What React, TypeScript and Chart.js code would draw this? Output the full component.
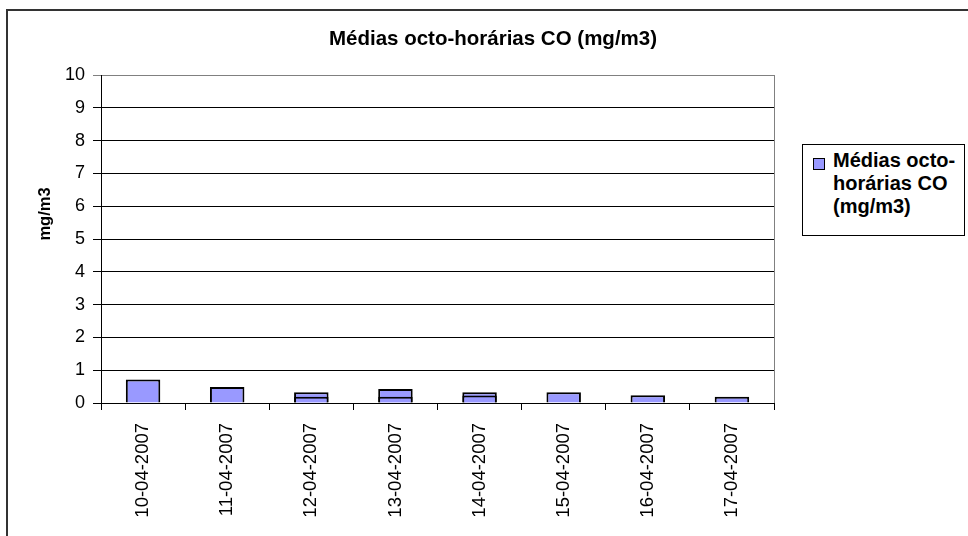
import React, { useEffect, useRef } from "react";
import { Chart, registerables } from "chart.js";

Chart.register(...registerables);

const categories = [
  "10-04-2007",
  "11-04-2007",
  "12-04-2007",
  "13-04-2007",
  "14-04-2007",
  "15-04-2007",
  "16-04-2007",
  "17-04-2007",
];
// highest octo-hourly mean per day
const outerValues = [0.72, 0.49, 0.33, 0.43, 0.33, 0.33, 0.24, 0.19];
// lower overlapping mean visible inside some bars
const innerValues = [null, null, 0.19, 0.19, 0.23, null, null, null];
const chartTitle = "Médias octo-horárias CO (mg/m3)";
const yTitle = "mg/m3";
const legendLines = ["Médias octo-", "horárias CO", "(mg/m3)"];

const FONT = "'Liberation Sans', Arial, sans-serif";
const BAR_FILL = "#9999FF";

const textPlugin = {
  id: "textPlugin",
  afterDraw(chart: any) {
    const ctx = chart.ctx;
    const area = chart.chartArea;
    ctx.save();
    // right plot border (gray)
    ctx.strokeStyle = "#808080";
    ctx.lineWidth = 1;
    ctx.beginPath();
    ctx.moveTo(Math.round(area.right) + 0.5, area.top);
    ctx.lineTo(Math.round(area.right) + 0.5, area.bottom);
    ctx.stroke();
    // main title
    ctx.fillStyle = "#000";
    ctx.font = `bold 20.5px ${FONT}`;
    ctx.textAlign = "center";
    ctx.textBaseline = "alphabetic";
    ctx.fillText(chartTitle, 485, 34);
    // y title
    ctx.translate(37, 203);
    ctx.rotate(-Math.PI / 2);
    ctx.font = `bold 16.5px ${FONT}`;
    ctx.textAlign = "center";
    ctx.textBaseline = "middle";
    ctx.fillText(yTitle, 0, 0);
    ctx.restore();
  },
};

export default function App() {
  const ref = useRef<HTMLCanvasElement | null>(null);

  useEffect(() => {
    if (!ref.current) return;
    const chart = new Chart(ref.current, {
      type: "bar",
      data: {
        labels: categories,
        datasets: [
          {
            label: "inner",
            data: innerValues as any,
            backgroundColor: BAR_FILL,
            borderColor: "#000",
            borderWidth: 2,
            grouped: false,
            order: 1,
            categoryPercentage: 1,
            barPercentage: 0.41,
          } as any,
          {
            label: chartTitle,
            data: outerValues,
            backgroundColor: BAR_FILL,
            borderColor: "#000",
            borderWidth: 2,
            grouped: false,
            order: 2,
            categoryPercentage: 1,
            barPercentage: 0.41,
          } as any,
        ],
      },
      options: {
        responsive: false,
        animation: false,
        devicePixelRatio: 1,
        layout: {
          autoPadding: false,
          padding: { left: 0, top: 64, right: 194, bottom: 0 },
        },
        plugins: {
          legend: { display: false },
          title: { display: false },
          tooltip: { enabled: false },
        },
        scales: {
          x: {
            offset: true,
            afterFit: (s: any) => {
              s.height = 138;
            },
            grid: {
              offset: true,
              drawOnChartArea: false,
              drawTicks: true,
              tickLength: 7,
              color: "#000",
            },
            border: { display: true, color: "#000" },
            ticks: {
              minRotation: 90,
              maxRotation: 90,
              autoSkip: false,
              padding: 13,
              color: "#000",
              font: { family: FONT, size: 18.5 },
            },
          },
          y: {
            min: 0,
            max: 10,
            afterFit: (s: any) => {
              s.width = 93;
            },
            grid: {
              color: (c: any) => (c.tick && c.tick.value === 10 ? "#808080" : "#000"),
              drawTicks: true,
              tickLength: 8,
            },
            border: { display: true, color: "#000" },
            ticks: {
              stepSize: 1,
              padding: 8,
              color: "#000",
              font: { family: FONT, size: 18 },
            },
          },
        },
      },
      plugins: [textPlugin],
    });
    return () => chart.destroy();
  }, []);

  return (
    <div
      style={{
        position: "fixed",
        left: 6,
        top: 9,
        width: 962,
        height: 540,
        border: "2px solid #333",
        background: "#fff",
        overflow: "hidden",
      }}
    >
      <canvas ref={ref} width={960} height={530} style={{ display: "block" }} />
      <div
        style={{
          position: "absolute",
          left: 794,
          top: 133,
          width: 161,
          height: 90,
          border: "1px solid #000",
          background: "#fff",
          fontFamily: FONT,
          fontWeight: "bold",
          fontSize: 20,
          lineHeight: "23px",
          color: "#000",
        }}
      >
        <div
          style={{
            position: "absolute",
            left: 10,
            top: 13,
            width: 10,
            height: 10,
            border: "1px solid #000",
            background: BAR_FILL,
          }}
        />
        <div style={{ position: "absolute", left: 30, top: 4, whiteSpace: "nowrap" }}>
          {legendLines.map((l, i) => (
            <div key={i}>{l}</div>
          ))}
        </div>
      </div>
    </div>
  );
}
